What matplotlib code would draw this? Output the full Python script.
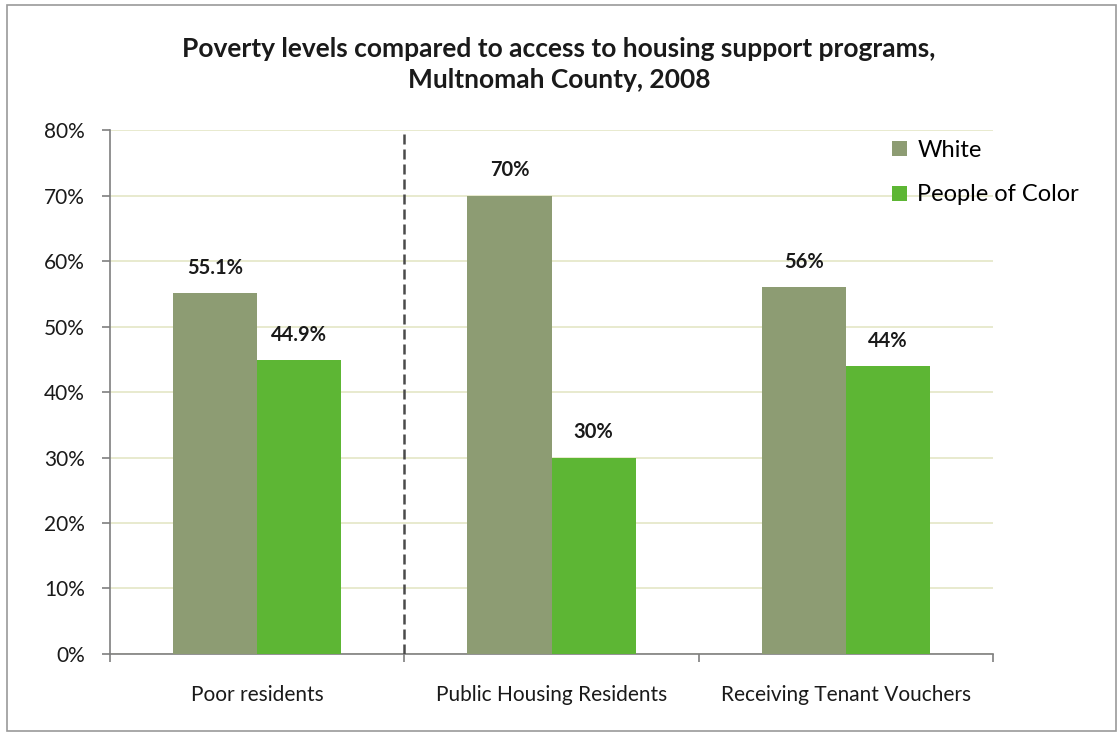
import numpy as np
import matplotlib
matplotlib.use('Agg')
import matplotlib.pyplot as plt
from matplotlib.patches import Rectangle
from matplotlib.ticker import FuncFormatter

plt.rcParams['font.family'] = ['Lato', 'DejaVu Sans']

categories = ['Poor residents', 'Public Housing Residents', 'Receiving Tenant Vouchers']
white = [55.1, 70, 56]
people_of_color = [44.9, 30, 44]
white_labels = ['55.1%', '70%', '56%']
poc_labels = ['44.9%', '30%', '44%']

WHITE_COLOR = '#8d9c73'
POC_COLOR = '#5db634'
GRID_COLOR = '#e4e6c6'
AXIS_COLOR = '#7f7f7f'

fig = plt.figure(figsize=(11.18, 7.33), dpi=100)
fig.patch.set_facecolor('white')
# chart frame
fig.add_artist(Rectangle((0.006, 0.003), 0.992, 0.99, transform=fig.transFigure,
                         fill=False, edgecolor='#9a9a9a', linewidth=1.2))

ax = fig.add_axes([0.0984, 0.1078, 0.7898, 0.7148])

x = np.arange(len(categories))
w = 0.286
b1 = ax.bar(x - w / 2, white, w, color=WHITE_COLOR, label='White', zorder=3)
b2 = ax.bar(x + w / 2, people_of_color, w, color=POC_COLOR, label='People of Color', zorder=3)

for rects, labels in ((b1, white_labels), (b2, poc_labels)):
    for r, lab in zip(rects, labels):
        ax.annotate(lab, (r.get_x() + r.get_width() / 2, r.get_height()),
                    xytext=(0, 11), textcoords='offset points', ha='center', va='bottom',
                    fontsize=14.5, fontweight='bold', color='#1a1a1a')

ax.set_xlim(-0.5, 2.5)
ax.set_ylim(0, 80)
ax.set_yticks(np.arange(0, 81, 10))
ax.yaxis.set_major_formatter(FuncFormatter(lambda v, p: '%d%%' % v))
ax.set_xticks(x)
ax.set_xticklabels(categories)
ax.set_xticks([-0.5, 0.5, 1.5, 2.5], minor=True)
ax.tick_params(axis='x', which='major', length=0, pad=22, labelsize=15, colors='#1a1a1a')
ax.tick_params(axis='x', which='minor', length=6, color=AXIS_COLOR, width=1.2)
ax.tick_params(axis='y', length=6, color=AXIS_COLOR, width=1.2, labelsize=15, pad=12,
               labelcolor='#1a1a1a')

ax.grid(axis='y', color=GRID_COLOR, linewidth=1.2, zorder=0)
for s in ('top', 'right'):
    ax.spines[s].set_visible(False)
for s in ('left', 'bottom'):
    ax.spines[s].set_color(AXIS_COLOR)
    ax.spines[s].set_linewidth(1.2)

# divider between poverty share and program access
ax.axvline(0.5, color='#4a4a4a', linestyle=(0, (4, 2)), linewidth=1.8, zorder=4)

leg = ax.legend(loc='upper left', bbox_to_anchor=(0.862, 1.022), frameon=False, fontsize=17,
                handlelength=0.6, handleheight=0.6, handletextpad=0.45, labelspacing=1.0)

fig.text(0.5, 0.912, 'Poverty levels compared to access to housing support programs,\n'
         'Multnomah County, 2008', ha='center', va='center', fontsize=19,
         fontweight='bold', linespacing=1.35, color='#1a1a1a')

fig.savefig('out.png', dpi=100)
